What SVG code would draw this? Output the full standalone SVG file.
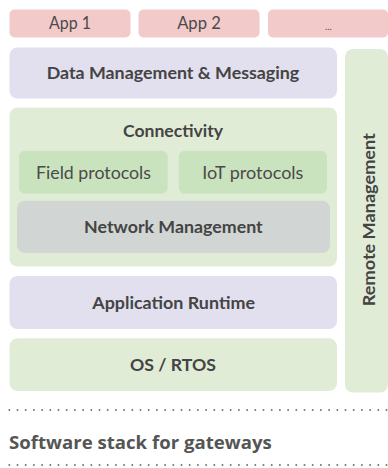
<svg xmlns="http://www.w3.org/2000/svg" width="388" height="468" viewBox="0 0 388 468">
<style>
.app{fill:#f2caca}
.lav{fill:#e2dfee}
.lg{fill:#e1ecd6}
.mg{fill:#cae3bf}
.gr{fill:#d1d6d4}
text{font-family:"Lato","Open Sans",sans-serif;fill:#444;text-anchor:middle}
.b{font-weight:700;font-size:17px}
.n{font-weight:400;font-size:17px;fill:#4a4a4a}
.t{font-family:"Open Sans",sans-serif;font-weight:700;font-size:18px;fill:#555;text-anchor:start}
.dot{stroke:#777;stroke-width:2;stroke-linecap:round;stroke-dasharray:0 8.2;fill:none}
</style>
<rect width="388" height="468" fill="#fff"/>
<g id="app1"><rect class="app" x="9.5" y="9.5" width="121" height="28" rx="5"/><text class="n" x="70" y="29.3" textLength="42" lengthAdjust="spacingAndGlyphs">App 1</text></g>
<g id="app2"><rect class="app" x="138.5" y="9.5" width="121" height="28" rx="5"/><text class="n" x="199" y="29.3" textLength="43.7" lengthAdjust="spacingAndGlyphs">App 2</text></g>
<g id="app3"><rect class="app" x="268" y="9.5" width="120" height="28" rx="5"/><text class="n" x="328.3" y="30" style="font-size:10px" textLength="6.7" lengthAdjust="spacingAndGlyphs">...</text></g>
<g id="data"><rect class="lav" x="9.5" y="47.5" width="327.5" height="51" rx="8"/><text class="b" x="173" y="79.3" textLength="252.6" lengthAdjust="spacingAndGlyphs">Data Management &amp; Messaging</text></g>
<g id="remote"><rect class="lg" x="345" y="49" width="43" height="343.5" rx="8"/><text class="b" transform="translate(375 219.7) rotate(-90)" textLength="173" lengthAdjust="spacingAndGlyphs">Remote Management</text></g>
<g id="connectivity"><rect class="lg" x="9.5" y="107.5" width="327.5" height="159" rx="8"/><text class="b" x="173" y="136.7" textLength="100" lengthAdjust="spacingAndGlyphs">Connectivity</text></g>
<g id="field"><rect class="mg" x="19" y="150.7" width="148.7" height="43" rx="6"/><text class="n" x="93.5" y="179" textLength="115" lengthAdjust="spacingAndGlyphs">Field protocols</text></g>
<g id="iot"><rect class="mg" x="178.7" y="150.7" width="148.3" height="43" rx="6"/><text class="n" x="252.8" y="179" textLength="101.3" lengthAdjust="spacingAndGlyphs">IoT protocols</text></g>
<g id="network"><rect class="gr" x="17" y="200.7" width="313" height="52.3" rx="8"/><text class="b" x="173.4" y="233.3" textLength="178.7" lengthAdjust="spacingAndGlyphs">Network Management</text></g>
<g id="runtime"><rect class="lav" x="9.5" y="276" width="327.5" height="53" rx="8"/><text class="b" x="173.6" y="309" textLength="162.7" lengthAdjust="spacingAndGlyphs">Application Runtime</text></g>
<g id="os"><rect class="lg" x="9.5" y="338.3" width="327.5" height="52.7" rx="8"/><text class="b" x="173" y="370.7" textLength="86" lengthAdjust="spacingAndGlyphs">OS / RTOS</text></g>
<g id="connectors"></g>
<line class="dot" x1="9.3" y1="410" x2="388" y2="410"/>
<text class="t" x="9" y="449" textLength="262.7" lengthAdjust="spacingAndGlyphs">Software stack for gateways</text>
<line class="dot" x1="9.3" y1="465" x2="388" y2="465"/>
</svg>
